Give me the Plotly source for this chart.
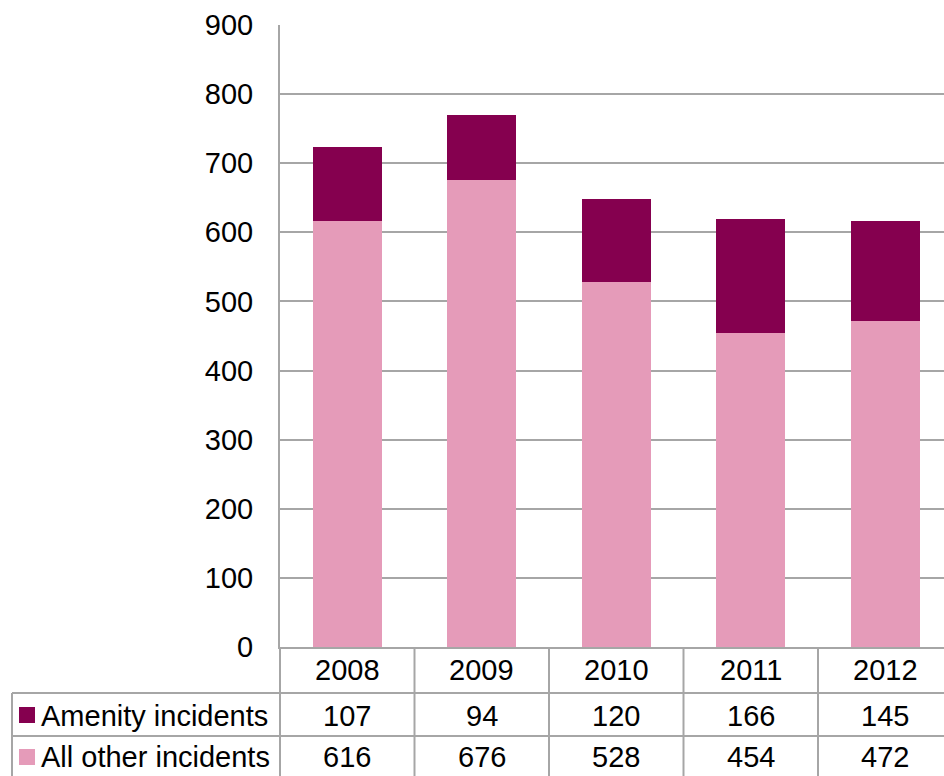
import plotly.graph_objects as go

# ---- data ----
years = ["2008", "2009", "2010", "2011", "2012"]
amenity = [107, 94, 120, 166, 145]
other = [616, 676, 528, 454, 472]
series_names = ["Amenity incidents", "All other incidents"]
y_ticks = [0, 100, 200, 300, 400, 500, 600, 700, 800, 900]

# ---- style / layout ----
W, H = 944, 776
ML, MR, MT, MB = 280, 0, 25, 129
PW, PH = W - ML - MR, H - MT - MB
COL_W = 134.5  # pixel width of one category column
DARK = "#85004F"
PINK = "#E59BB9"
GRID = "#A6A6A6"
FONT = dict(family="Liberation Sans, Arial, sans-serif", size=29, color="#000000")

x_range = [-0.5, -0.5 + PW / COL_W]


def px(xp):
    return (xp - ML) / PW


def py(yp):
    return (H - MB - yp) / PH


def cat_px(i):
    return (i - x_range[0]) / (x_range[1] - x_range[0])


fig = go.Figure()
fig.add_trace(go.Bar(x=years, y=other, name=series_names[1], marker_color=PINK,
                     marker_line_width=0))
fig.add_trace(go.Bar(x=years, y=amenity, name=series_names[0], marker_color=DARK,
                     marker_line_width=0))

shapes = []
line = dict(color=GRID, width=2)
bottom = py(H + 5)
# axis extension into table
shapes.append(dict(type="line", xref="paper", yref="paper", x0=0, x1=0,
                   y0=0, y1=bottom, line=line))
# column separators
for i in range(len(years) - 1):
    xp = cat_px(i + 0.5)
    shapes.append(dict(type="line", xref="paper", yref="paper", x0=xp, x1=xp,
                       y0=0, y1=bottom, line=line))
# horizontal table lines
for yp in (693, 736):
    shapes.append(dict(type="line", xref="paper", yref="paper", x0=px(12), x1=1,
                       y0=py(yp), y1=py(yp), line=line))
# left border of legend column
shapes.append(dict(type="line", xref="paper", yref="paper", x0=px(12), x1=px(12),
                   y0=py(693), y1=bottom, line=line))
# legend keys
for yc, col in ((715, DARK), (757, PINK)):
    shapes.append(dict(type="rect", xref="paper", yref="paper",
                       x0=px(19), x1=px(35), y0=py(yc - 8), y1=py(yc + 8),
                       fillcolor=col, line=dict(width=0)))

annotations = []
for i, yr in enumerate(years):
    xc = cat_px(i)
    for yc, txt in ((670, yr), (716, str(amenity[i])), (757, str(other[i]))):
        annotations.append(dict(x=xc, xref="paper", y=py(yc), yref="paper", text=txt,
                                showarrow=False, font=FONT, xanchor="center",
                                yanchor="middle"))
for name, yc in ((series_names[0], 716), (series_names[1], 757)):
    annotations.append(dict(x=px(39), xref="paper", y=py(yc), yref="paper", text=name,
                            showarrow=False, font=FONT, xanchor="left", yanchor="middle"))

fig.update_layout(
    width=W, height=H,
    margin=dict(l=ML, r=MR, t=MT, b=MB, pad=0),
    barmode="stack", bargap=0.487,
    plot_bgcolor="white", paper_bgcolor="white",
    showlegend=False,
    font=FONT,
    shapes=shapes, annotations=annotations,
    xaxis=dict(range=x_range, showticklabels=False, showgrid=False, zeroline=False,
               showline=True, linecolor=GRID, linewidth=2, ticks="", fixedrange=True),
    yaxis=dict(range=[0, 900], tickvals=y_ticks, showgrid=True, gridcolor=GRID, gridwidth=2,
               zeroline=False, showline=True, linecolor=GRID, linewidth=2, ticks="",
               ticklabelstandoff=19, tickfont=FONT, fixedrange=True),
)

fig.write_html("out.html", config={"displayModeBar": False})
